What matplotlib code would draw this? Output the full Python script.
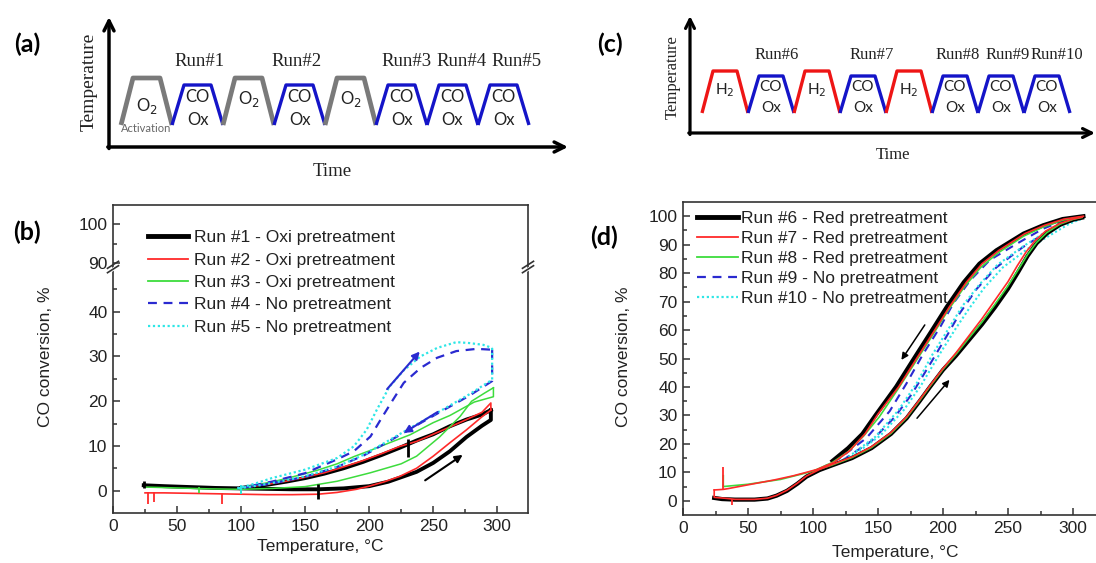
import matplotlib
matplotlib.use('Agg')
import matplotlib.pyplot as plt
from matplotlib.lines import Line2D
from matplotlib.ticker import MultipleLocator

plt.rcParams['font.family'] = ['Liberation Sans', 'DejaVu Sans']

W, H = 1096, 563

# ---- schematic sequences (panels a and c)
steps_a = ['O2', 'CO', 'O2', 'CO', 'O2', 'CO', 'CO', 'CO']
runs_a = ['Run#1', 'Run#2', 'Run#3', 'Run#4', 'Run#5']
steps_c = ['H2', 'CO', 'H2', 'CO', 'H2', 'CO', 'CO', 'CO']
runs_c = ['Run#6', 'Run#7', 'Run#8', 'Run#9', 'Run#10']

# ---- panel (b): CO conversion, heating / cooling branches
run1_heat_T = [24, 40, 60, 80, 100, 120, 140, 160, 180, 200, 215, 225, 237, 250, 263, 276, 288, 295, 295]
run1_heat_C = [1.2, 1.0, 0.8, 0.6, 0.5, 0.4, 0.3, 0.3, 0.5, 1.0, 2.0, 3.0, 4.2, 6.2, 8.8, 12.0, 14.5, 15.8, 18.0]
run1_cool_T = [295, 288, 276, 263, 250, 237, 224, 210, 195, 180, 165, 150, 135, 120, 105, 100]
run1_cool_C = [18.0, 17.0, 15.9, 14.4, 12.6, 11.2, 9.6, 8.0, 6.4, 5.0, 3.8, 2.8, 2.0, 1.3, 0.8, 0.6]

run2_heat_T = [25, 40, 60, 80, 100, 120, 140, 160, 175, 190, 200, 212, 224, 237, 250, 263, 276, 288, 295]
run2_heat_C = [-0.5, -0.5, -0.6, -0.7, -0.8, -0.9, -0.9, -0.8, -0.4, 0.3, 1.0, 2.0, 3.2, 5.0, 7.7, 10.7, 13.6, 16.5, 18.0]
run2_cool_T = [295, 295, 288, 276, 258, 237, 224, 210, 195, 180, 165, 150, 135, 120, 105, 100]
run2_cool_C = [18.0, 19.6, 17.5, 15.9, 13.6, 11.0, 9.9, 8.3, 6.7, 5.3, 4.0, 3.0, 2.1, 1.4, 0.8, 0.6]

run3_heat_T = [25, 50, 75, 100, 125, 150, 175, 201, 225, 237, 255, 271, 280, 290, 297]
run3_heat_C = [0.8, 0.6, 0.4, 0.3, 0.5, 0.9, 2.1, 4.0, 6.0, 7.7, 12.0, 16.6, 20.0, 21.8, 23.0]
run3_cool_T = [297, 297, 282, 263, 250, 232, 215, 201, 188, 175, 160, 150, 135, 125, 110, 100]
run3_cool_C = [23.0, 21.0, 19.8, 16.8, 15.2, 12.5, 10.6, 9.0, 7.6, 6.0, 4.6, 3.8, 2.7, 2.0, 1.2, 0.5]

run4_heat_T = [97, 110, 124, 150, 162, 175, 188, 201, 209, 217, 227, 240, 253, 268, 284, 296]
run4_heat_C = [0.5, 1.2, 2.0, 3.9, 5.4, 7.0, 8.8, 12.1, 15.9, 19.6, 24.1, 27.4, 29.7, 31.2, 31.7, 31.5]
run4_cool_T = [296, 296, 278, 253, 232, 214, 196, 175, 150, 124, 110, 97]
run4_cool_C = [31.5, 24.5, 21.2, 17.2, 13.8, 10.8, 7.9, 5.3, 3.1, 1.6, 1.0, 0.5]

run5_heat_T = [97, 110, 124, 150, 175, 188, 198, 206, 216, 227, 240, 253, 268, 278, 289, 296]
run5_heat_C = [0.5, 1.5, 2.8, 4.7, 7.3, 9.9, 13.6, 18.1, 23.3, 26.9, 30.0, 31.9, 33.2, 33.0, 32.6, 31.9]
run5_cool_T = [296, 296, 278, 253, 232, 214, 196, 175, 150, 124, 110, 97]
run5_cool_C = [31.9, 24.8, 21.5, 17.4, 14.0, 11.0, 8.05, 5.4, 3.2, 1.7, 1.0, 0.5]

# glitches in the recorded signal (T, low, high)
b_spikes = {
    'k': ([24, 160, 230], [0.5, -1.8, 7.5], [2.2, 1.5, 11.5]),
    '#ff2a2a': ([27, 32, 85], [-3.0, -2.5, -3.0], [-0.4, -0.4, -0.6]),
    '#3ddc3d': ([67, 100], [-0.6, -0.8], [0.8, 0.8]),
    '#2ee6e6': ([100], [-0.8], [1.2]),
}
# direction arrows (start T, start C, end T, end C)
b_arrows = [(214, 22.7, 239.5, 31.1, '#2a2ad0'),
            (253.5, 17.6, 227, 12.9, '#2a2ad0'),
            (243.7, 2.3, 273, 8.0, 'k')]

# ---- panel (d)
run6_heat_T = [24, 30, 40, 55, 65, 72, 80, 88, 95, 105, 115, 130, 145, 160, 172, 182, 190, 200, 210, 220, 230, 240, 250, 258, 265, 272, 280, 290, 300, 307]
run6_heat_C = [1.0, 0.6, 0.4, 0.4, 0.8, 1.8, 3.5, 6.0, 8.5, 10.8, 12.5, 15.0, 18.5, 23.5, 29.0, 35.0, 40.0, 46.0, 51.0, 56.5, 62.0, 68.0, 74.5, 80.5, 86.0, 90.5, 94.0, 97.0, 98.8, 99.5]
run6_cool_T = [308, 292, 277, 262, 241, 228, 216, 203, 190, 177, 164, 148, 138, 127, 115]
run6_cool_C = [100.0, 99.0, 96.8, 93.9, 88.0, 83.3, 76.8, 68.2, 58.8, 49.5, 40.1, 30.0, 23.5, 18.5, 14.0]

run7_heat_T = [24, 24, 32, 40, 55, 65, 72, 80, 88, 95, 105, 115, 130, 145, 160, 172, 182, 190, 200, 210, 220, 230, 240, 250, 257, 264, 271, 279, 290, 300, 307]
run7_heat_C = [3.8, 1.2, 0.9, 0.5, 0.5, 0.9, 1.9, 3.7, 6.2, 8.7, 11.0, 12.8, 15.4, 19.0, 24.0, 29.5, 35.5, 40.5, 46.5, 52.0, 58.0, 64.0, 70.5, 77.0, 82.5, 87.5, 91.5, 94.8, 97.5, 99.0, 99.7]
run7_cool_T = [308, 293, 278, 263, 243, 230, 218, 205, 192, 179, 166, 150, 140, 128, 116, 103, 95, 85, 70, 50, 35, 31, 24]
run7_cool_C = [100.0, 99.0, 96.8, 93.9, 88.0, 83.3, 76.8, 68.2, 58.8, 49.5, 40.1, 30.5, 23.5, 17.5, 13.5, 11.0, 10.0, 8.8, 7.3, 5.6, 4.3, 4.0, 3.8]

run8_heat_T = [31, 31, 50, 75, 100, 115, 130, 145, 160, 172, 182, 190, 200, 210, 220, 230, 240, 250, 258, 265, 272, 280, 290, 300, 307]
run8_heat_C = [8.8, 5.0, 5.8, 7.5, 10.4, 12.6, 15.2, 18.7, 23.7, 29.2, 35.2, 40.2, 46.2, 51.5, 57.2, 62.8, 69.0, 75.5, 81.3, 86.5, 90.8, 94.3, 97.2, 98.9, 99.6]
run8_cool_T = [307, 292, 277, 262, 242, 229, 217, 204, 191, 178, 165, 151, 139, 127, 115, 100]
run8_cool_C = [99.8, 98.6, 96.2, 93.0, 87.0, 82.0, 75.5, 67.0, 57.5, 48.2, 39.0, 29.5, 22.8, 17.2, 13.5, 10.4]

run9_heat_T = [102, 122, 145, 163, 176, 190, 203, 213, 226, 241, 261, 280, 295, 305]
run9_heat_C = [10.3, 14.0, 21.0, 29.5, 37.5, 48.0, 58.0, 66.0, 74.5, 82.0, 89.0, 94.5, 97.8, 99.3]
run9_cool_T = [305, 290, 277, 257, 236, 221, 208, 198, 185, 172, 159, 141, 120, 102]
run9_cool_C = [99.3, 98.0, 95.6, 90.4, 84.6, 77.5, 69.4, 61.2, 51.8, 41.3, 31.5, 22.0, 14.8, 10.3]

run10_heat_T = [104, 128, 152, 170, 183, 196, 209, 220, 232, 246, 265, 283, 297, 306]
run10_heat_C = [10.5, 15.0, 23.0, 32.0, 40.5, 50.5, 60.0, 67.5, 75.0, 82.0, 88.5, 93.5, 97.3, 99.0]
run10_cool_T = [306, 292, 280, 262, 242, 228, 215, 205, 192, 180, 166, 148, 126, 104]
run10_cool_C = [99.0, 97.5, 94.8, 89.5, 83.0, 76.0, 68.5, 61.0, 51.5, 41.5, 32.0, 22.5, 15.0, 10.5]

d_spikes = {'#ff2a2a': ([31, 38], [4.0, -1.5], [12.0, 0.5])}
d_arrows = [(186, 61.8, 168, 49.5, 'k'), (180, 29.0, 205, 42.5, 'k')]

RED = '#ff2a2a'
GREEN = '#3ddc3d'
BLUE = '#2a2ad0'
CYAN = '#2ee6e6'
TXT = '#222222'


def px_axes(fig, l, t, r, b):
    return fig.add_axes([l / W, 1 - b / H, (r - l) / W, (b - t) / H])


def style_axes(ax):
    for s in ax.spines.values():
        s.set_linewidth(1.2)
        s.set_color('#333333')
    ax.tick_params(which='both', direction='in', top=False, right=False,
                   labelsize=12.5, labelcolor=TXT, color='#333333', width=1.1)
    ax.tick_params(which='major', length=5, pad=4)
    ax.tick_params(which='minor', length=3)


fig = plt.figure(figsize=(W / 100, H / 100), dpi=100)
fig.patch.set_facecolor('white')

# ---------------- panel (b)
ax_bl = px_axes(fig, 113, 267, 528, 513)
ax_bu = px_axes(fig, 113, 205, 528, 267)
for ax in (ax_bl, ax_bu):
    style_axes(ax)
    ax.set_xlim(0, 324)
ax_bl.set_ylim(-5, 50)
ax_bu.set_ylim(89, 105)
ax_bl.spines['top'].set_visible(False)
ax_bu.spines['bottom'].set_visible(False)
ax_bu.tick_params(which='both', bottom=False, labelbottom=False)
ax_bl.set_yticks([0, 10, 20, 30, 40])
ax_bl.set_yticks(range(5, 50, 10), minor=True)
ax_bu.set_yticks([90, 100])
ax_bu.set_yticks([95], minor=True)
ax_bl.set_xticks(range(0, 301, 50))
ax_bl.xaxis.set_minor_locator(MultipleLocator(25))

b_series = [
    (run1_heat_T, run1_heat_C, run1_cool_T, run1_cool_C, dict(color='k', lw=2.8)),
    (run2_heat_T, run2_heat_C, run2_cool_T, run2_cool_C, dict(color=RED, lw=1.2)),
    (run3_heat_T, run3_heat_C, run3_cool_T, run3_cool_C, dict(color=GREEN, lw=1.1)),
    (run4_heat_T, run4_heat_C, run4_cool_T, run4_cool_C, dict(color=BLUE, lw=1.6, dashes=(4, 3))),
    (run5_heat_T, run5_heat_C, run5_cool_T, run5_cool_C, dict(color=CYAN, lw=1.6, dashes=(1, 1.2))),
]
for hT, hC, cT, cC, kw in b_series:
    ax_bl.plot(hT, hC, **kw)
    ax_bl.plot(cT, cC, **kw)
for col, (sT, lo, hi) in b_spikes.items():
    ax_bl.vlines(sT, lo, hi, colors=col, lw=2.0 if col == 'k' else 1.3)
for x0, y0, x1, y1, col in b_arrows:
    ax_bl.annotate('', xy=(x1, y1), xytext=(x0, y0),
                   arrowprops=dict(arrowstyle='-|>', color=col, lw=1.5,
                                   mutation_scale=11, shrinkA=0, shrinkB=0))

hb = [Line2D([], [], color='k', lw=3.5),
      Line2D([], [], color=RED, lw=1.3),
      Line2D([], [], color=GREEN, lw=1.3),
      Line2D([], [], color=BLUE, lw=1.6, dashes=(4, 3)),
      Line2D([], [], color=CYAN, lw=1.6, dashes=(1, 1.2))]
lb = ['Run #1 - Oxi pretreatment', 'Run #2 - Oxi pretreatment',
      'Run #3 - Oxi pretreatment', 'Run #4 - No pretreatment',
      'Run #5 - No pretreatment']
fig.legend(hb, lb, loc='upper left', bbox_to_anchor=(148 / W, 1 - 230 / H),
           frameon=False, fontsize=12.5, handlelength=2.3, handletextpad=0.35,
           labelspacing=0.42, borderpad=0, borderaxespad=0, labelcolor=TXT)

# ---------------- panel (d)
ax_d = px_axes(fig, 683, 202, 1112, 515)
style_axes(ax_d)
ax_d.set_xlim(0, 330)
ax_d.set_ylim(-5, 105)
ax_d.set_xticks(range(0, 301, 50))
ax_d.xaxis.set_minor_locator(MultipleLocator(25))
ax_d.set_yticks(range(0, 101, 10))
ax_d.set_yticks(range(5, 100, 10), minor=True)

d_series = [
    (run9_heat_T, run9_heat_C, run9_cool_T, run9_cool_C, dict(color=BLUE, lw=1.5, dashes=(4, 3))),
    (run10_heat_T, run10_heat_C, run10_cool_T, run10_cool_C, dict(color=CYAN, lw=1.5, dashes=(1, 1.2))),
    (run6_heat_T, run6_heat_C, run6_cool_T, run6_cool_C, dict(color='k', lw=3.0)),
    (run8_heat_T, run8_heat_C, run8_cool_T, run8_cool_C, dict(color=GREEN, lw=1.2)),
    (run7_heat_T, run7_heat_C, run7_cool_T, run7_cool_C, dict(color=RED, lw=1.2)),
]
for hT, hC, cT, cC, kw in d_series:
    ax_d.plot(hT, hC, **kw)
    ax_d.plot(cT, cC, **kw)
for col, (sT, lo, hi) in d_spikes.items():
    ax_d.vlines(sT, lo, hi, colors=col, lw=1.3)
for x0, y0, x1, y1, col in d_arrows:
    ax_d.annotate('', xy=(x1, y1), xytext=(x0, y0),
                  arrowprops=dict(arrowstyle='-|>', color=col, lw=1.1,
                                  mutation_scale=10, shrinkA=0, shrinkB=0))

hd = [Line2D([], [], color='k', lw=3.5),
      Line2D([], [], color=RED, lw=1.3),
      Line2D([], [], color=GREEN, lw=1.3),
      Line2D([], [], color=BLUE, lw=1.6, dashes=(4, 3)),
      Line2D([], [], color=CYAN, lw=1.6, dashes=(1, 1.2))]
ld = ['Run #6 - Red pretreatment', 'Run #7 - Red pretreatment',
      'Run #8 - Red pretreatment', 'Run #9 - No pretreatment',
      'Run #10 - No pretreatment']
fig.legend(hd, ld, loc='upper left', bbox_to_anchor=(697 / W, 1 - 211 / H),
           frameon=False, fontsize=12.5, handlelength=2.35, handletextpad=0.2,
           labelspacing=0.28, borderpad=0, borderaxespad=0, labelcolor=TXT)

# axis titles
fig.text(320 / W, 1 - 546 / H, 'Temperature, °C', ha='center', va='center', fontsize=12.5, color=TXT)
fig.text(46 / W, 1 - 357 / H, 'CO conversion, %', ha='center', va='center', rotation=90, fontsize=12.5, color=TXT)
fig.text(895 / W, 1 - 553 / H, 'Temperature, °C', ha='center', va='center', fontsize=12.5, color=TXT)
fig.text(623 / W, 1 - 357 / H, 'CO conversion, %', ha='center', va='center', rotation=90, fontsize=12.5, color=TXT)

# ---------------- overlay in pixel units: schematics, panel letters, axis breaks
ov = fig.add_axes([0, 0, 1, 1], facecolor='none')
ov.set_xlim(0, W)
ov.set_ylim(H, 0)
ov.axis('off')

for lab, x, y in [('(a)', 27, 44), ('(b)', 27, 232), ('(c)', 610, 44), ('(d)', 604, 237)]:
    ov.text(x, y, lab, ha='center', va='center', fontsize=18, fontweight='bold',
            family=['Lato', 'DejaVu Sans'])

# break marks on panel (b)
for xb in (113, 528):
    ov.fill([xb - 3.5, xb + 3.5, xb + 3.5, xb - 3.5], [269.5, 265, 269, 273.5], color='white', zorder=5, lw=0)
    for dy in (-2.2, 2.2):
        ov.plot([xb - 5.5, xb + 5.5], [270.5 + dy, 263.5 + dy], color='#333333', lw=1.2, zorder=6)


def schematic(steps, runs, x0, step_w, ramp, y_low, tops, colors, widths,
              run_y, run_dx, co_y, ox_y, gas_y, run_fs, gas_fs):
    k = 0
    for i, s in enumerate(steps):
        xs = x0 + i * step_w
        xe = xs + step_w
        top = tops[s]
        ov.plot([xs, xs + ramp, xe - ramp, xe], [y_low, top, top, y_low],
                color=colors[s], lw=widths[s], solid_joinstyle='round', solid_capstyle='butt')
        cx = (xs + xe) / 2
        if s == 'CO':
            ov.text(cx, co_y, 'CO', ha='center', va='center', fontsize=gas_fs, family=['Lato', 'DejaVu Sans'], color='#222')
            ov.text(cx, ox_y, 'Ox', ha='center', va='center', fontsize=gas_fs, family=['Lato', 'DejaVu Sans'], color='#222')
            ov.text(cx + run_dx[k], run_y, runs[k], ha='center', va='center', fontsize=run_fs,
                    family=['Liberation Serif', 'DejaVu Serif'], color='#222')
            k += 1
        else:
            gy = gas_y[0] if i == 0 else gas_y[1]
            ov.text(cx, gy, s[0] + '$_' + s[1] + '$', ha='center', va='center', fontsize=gas_fs,
                    family=['Lato', 'DejaVu Sans'], color='#222')


# panel (a)
schematic(steps_a, runs_a, 121, 51, 12, 125, {'O2': 78, 'CO': 85},
          {'O2': '#7a7a7a', 'CO': '#1414c8'}, {'O2': 3.4, 'CO': 2.4},
          run_y=62, run_dx=[2, -3, 5, 9, 13], co_y=97, ox_y=120, gas_y=(106, 99),
          run_fs=13.5, gas_fs=12)
ov.text(146, 128, 'Activation', ha='center', va='center', fontsize=8, color='#666666',
        family=['Lato', 'DejaVu Sans'])
ov.annotate('', xy=(109, 17), xytext=(109, 148.5),
            arrowprops=dict(arrowstyle='->', lw=2.5, color='k', mutation_scale=18, shrinkA=0, shrinkB=0))
ov.annotate('', xy=(568, 147), xytext=(107.8, 147),
            arrowprops=dict(arrowstyle='->', lw=2.5, color='k', mutation_scale=18, shrinkA=0, shrinkB=0))
ov.text(89, 82, 'Temperature', rotation=90, ha='center', va='center', fontsize=14,
        family=['Liberation Serif', 'DejaVu Serif'], color='#222')
ov.text(332, 172, 'Time', ha='center', va='center', fontsize=13.5,
        family=['Liberation Serif', 'DejaVu Serif'], color='#222')

# panel (c)
schematic(steps_c, runs_c, 702, 46, 11, 113, {'H2': 71, 'CO': 76},
          {'H2': '#ee1515', 'CO': '#1414c8'}, {'H2': 2.4, 'CO': 2.4},
          run_y=55, run_dx=[6, 9, 3, 7, 10], co_y=87, ox_y=108, gas_y=(90, 90),
          run_fs=12, gas_fs=11)
ov.annotate('', xy=(690, 16), xytext=(690, 134.5),
            arrowprops=dict(arrowstyle='->', lw=2.3, color='k', mutation_scale=16, shrinkA=0, shrinkB=0))
ov.annotate('', xy=(1095, 133), xytext=(688.8, 133),
            arrowprops=dict(arrowstyle='->', lw=2.3, color='k', mutation_scale=16, shrinkA=0, shrinkB=0))
ov.text(673, 77, 'Temperature', rotation=90, ha='center', va='center', fontsize=12,
        family=['Liberation Serif', 'DejaVu Serif'], color='#222')
ov.text(893, 155, 'Time', ha='center', va='center', fontsize=12,
        family=['Liberation Serif', 'DejaVu Serif'], color='#222')

fig.savefig('out.png', dpi=100, facecolor='white')
